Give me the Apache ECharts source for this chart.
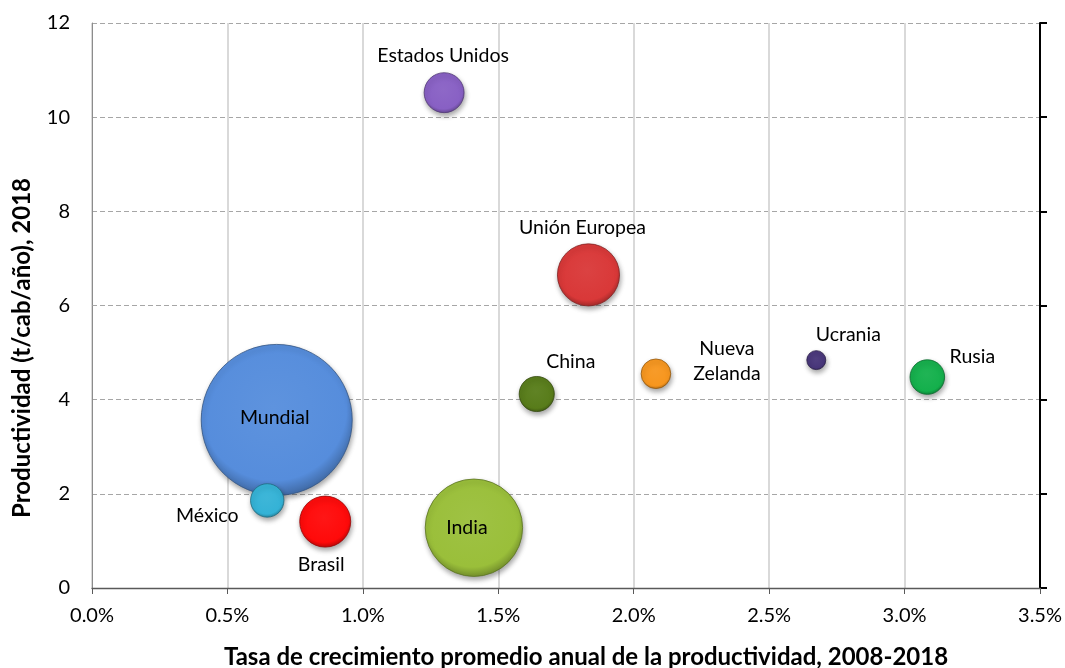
<!DOCTYPE html>
<html>
<head>
<meta charset="utf-8">
<script src="https://cdn.jsdelivr.net/npm/echarts@6/dist/echarts.min.js"></script>
<style>
  html, body { margin: 0; padding: 0; background: #fff; }
  #chart { width: 1065px; height: 668px; }
</style>
</head>
<body>
<div id="chart"></div>
<script>
// ---- Data ----
const countries = ['Mundial', 'México', 'Brasil', 'India', 'Estados Unidos', 'Unión Europea', 'China', 'Nueva\nZelanda', 'Ucrania', 'Rusia'];
const growthPct = [0.682, 0.647, 0.861, 1.410, 1.300, 1.833, 1.642, 2.082, 2.674, 3.084];
const productivity = [3.57, 1.86, 1.41, 1.28, 10.52, 6.65, 4.12, 4.55, 4.84, 4.48];
const bubbleSize = [100, 4.9, 11.4, 41.6, 7.0, 16.9, 5.4, 3.84, 1.58, 5.25];
const colors = ['#568ddc', '#34b2d6', '#ff0a0a', '#9abf3a', '#8860c4', '#d93838', '#587c1a', '#f7961e', '#48367a', '#14b04c'];
const xTicks = [0, 0.5, 1.0, 1.5, 2.0, 2.5, 3.0, 3.5];
const yTicks = [0, 2, 4, 6, 8, 10, 12];
const xTitle = 'Tasa de crecimiento promedio anual de la productividad, 2008-2018';
const yTitle = 'Productividad (t/cab/año), 2018';

// label offsets (px from bubble centre)
const labelOffsets = [[-2, -2], [-60, 15], [-4, 43], [-7, 0], [-1, -37], [-6, -47], [34, -32], [71, -13], [32, -25], [45, -20]];

function shade(hex, f) {
  const n = parseInt(hex.slice(1), 16);
  let r = (n >> 16) & 255, g = (n >> 8) & 255, b = n & 255;
  if (f >= 0) { r += (255 - r) * f; g += (255 - g) * f; b += (255 - b) * f; }
  else { r *= (1 + f); g *= (1 + f); b *= (1 + f); }
  return 'rgb(' + Math.round(r) + ',' + Math.round(g) + ',' + Math.round(b) + ')';
}

const FONT = 'Lato, "Open Sans", sans-serif';

const data = countries.map((name, i) => ({
  name: name,
  value: [growthPct[i], productivity[i], bubbleSize[i]],
  itemStyle: {
    opacity: 1,
    color: {
      type: 'radial', x: 0.48, y: 0.42, r: 0.6,
      colorStops: [
        { offset: 0, color: shade(colors[i], 0.05) },
        { offset: 0.8, color: colors[i] },
        { offset: 1, color: shade(colors[i], -0.3) }
      ]
    },
    borderColor: shade(colors[i], -0.4),
    borderWidth: 0.8,
    shadowBlur: 5,
    shadowOffsetX: 1,
    shadowOffsetY: 3,
    shadowColor: 'rgba(0,0,0,0.35)'
  },
  label: { offset: labelOffsets[i] }
}));

const chart = echarts.init(document.getElementById('chart'), null, { renderer: 'canvas' });
chart.setOption({
  backgroundColor: '#ffffff',
  animation: false,
  grid: { left: 92, right: 25, top: 23, bottom: 80 },
  xAxis: {
    type: 'value', min: xTicks[0], max: xTicks[xTicks.length - 1], interval: 0.5,
    axisLine: { show: true, lineStyle: { color: '#595959', width: 1.3 } },
    axisTick: { show: true, length: 6, lineStyle: { color: '#595959' } },
    axisLabel: { color: '#000', fontFamily: FONT, fontSize: 20, margin: 18,
      formatter: v => v.toFixed(1) + '%' },
    splitLine: { show: true, lineStyle: { color: '#d9d9d9', width: 2 } }
  },
  yAxis: [{
    type: 'value', min: yTicks[0], max: yTicks[yTicks.length - 1], interval: 2,
    axisLine: { show: true, lineStyle: { color: '#8c8c8c', width: 1 } },
    axisTick: { show: false },
    axisLabel: { color: '#000', fontFamily: FONT, fontSize: 20, margin: 22 },
    splitLine: { show: true, lineStyle: { color: '#a6a6a6', width: 1, type: [5, 3] } }
  }, {
    type: 'value', position: 'right', min: 0, max: 12, interval: 2,
    axisLine: { show: true, lineStyle: { color: '#000', width: 2 } },
    axisTick: { show: true, inside: false, length: 7, lineStyle: { color: '#000', width: 2 } },
    axisLabel: { show: false },
    splitLine: { show: false }
  }],
  series: [{
    type: 'scatter',
    data: data,
    symbolSize: v => Math.sqrt(v[2]) * 15.1,
    label: {
      show: true,
      position: 'inside',
      formatter: p => p.name,
      color: '#000',
      fontFamily: FONT,
      fontSize: 19.5,
      lineHeight: 25,
      align: 'center',
      verticalAlign: 'middle'
    },
    emphasis: { disabled: true }
  }],
  graphic: [{
    type: 'text',
    x: 586, y: 657,
    style: { text: xTitle, font: 'bold 24px ' + FONT, fill: '#000', textAlign: 'center', textVerticalAlign: 'middle' }
  }, {
    type: 'text',
    x: 22, y: 348,
    rotation: Math.PI / 2,
    style: { text: yTitle, font: 'bold 24px ' + FONT, fill: '#000', textAlign: 'center', textVerticalAlign: 'middle' }
  }]
});
</script>
</body>
</html>
